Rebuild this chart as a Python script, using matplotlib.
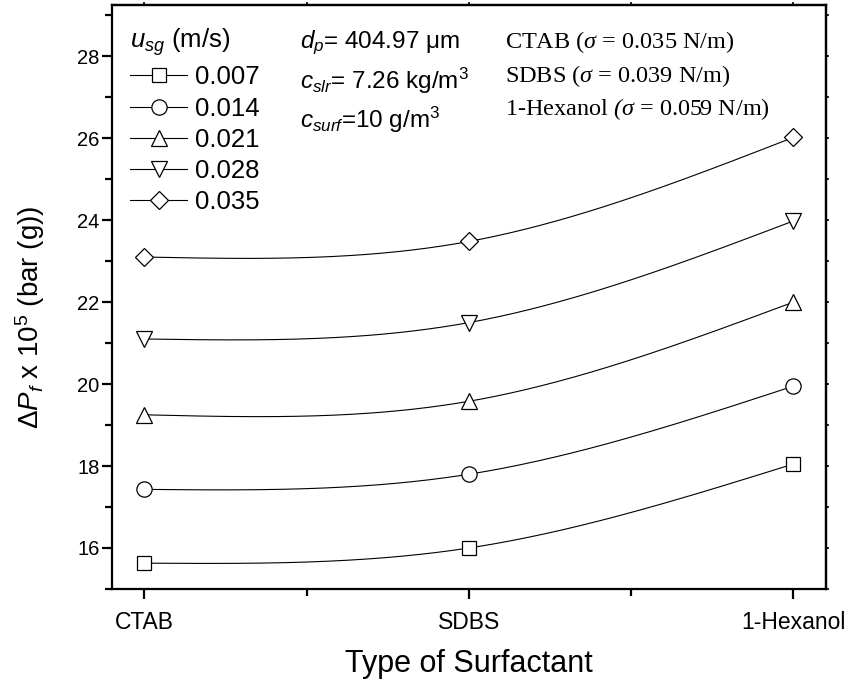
"""
Frictional pressure drop vs. surfactant type, one curve per gas velocity
"""

import numpy as np
import matplotlib
matplotlib.use("Agg")
import matplotlib.pyplot as plt
from matplotlib.ticker import MultipleLocator, FixedLocator

# ---- data ----
surfactants = ["CTAB", "SDBS", "1-Hexanol"]
usg_labels = ["0.007", "0.014", "0.021", "0.028", "0.035"]
dp_u007 = [15.63, 16.00, 18.05]
dp_u014 = [17.43, 17.80, 19.95]
dp_u021 = [19.25, 19.58, 22.00]
dp_u028 = [21.10, 21.50, 23.98]
dp_u035 = [23.10, 23.48, 26.02]

series = [dp_u007, dp_u014, dp_u021, dp_u028, dp_u035]
markers = ["s", "o", "^", "v", "D"]
msizes = [9.5, 11, 11.5, 11.5, 9]

plt.rcParams["font.family"] = ["Liberation Sans", "DejaVu Sans"]
plt.rcParams["mathtext.fontset"] = "custom"
plt.rcParams["mathtext.rm"] = "Liberation Sans"
plt.rcParams["mathtext.it"] = "Liberation Sans:italic"
plt.rcParams["mathtext.cal"] = "Liberation Serif:italic"


def natural_spline(x, y, n=300):
    """natural cubic spline, same look as Origin's spline connect"""
    x = np.asarray(x, float)
    y = np.asarray(y, float)
    m = len(x)
    h = np.diff(x)
    A = np.zeros((m, m))
    r = np.zeros(m)
    A[0, 0] = A[-1, -1] = 1
    for i in range(1, m - 1):
        A[i, i - 1] = h[i - 1]
        A[i, i] = 2 * (h[i - 1] + h[i])
        A[i, i + 1] = h[i]
        r[i] = 6 * ((y[i + 1] - y[i]) / h[i] - (y[i] - y[i - 1]) / h[i - 1])
    M = np.linalg.solve(A, r)
    xs = np.linspace(x[0], x[-1], n)
    k = np.clip(np.searchsorted(x, xs) - 1, 0, m - 2)
    hk = h[k]
    a = x[k + 1] - xs
    b = xs - x[k]
    ys = (M[k] * a**3 + M[k + 1] * b**3) / (6 * hk) \
        + (y[k] / hk - M[k] * hk / 6) * a + (y[k + 1] / hk - M[k + 1] * hk / 6) * b
    return xs, ys


fig = plt.figure(figsize=(8.48, 6.82), dpi=100)
ax = fig.add_axes([0.132, 0.1364, 0.842, 0.8563])

xpos = np.arange(len(surfactants))
for vals, mk, ms, lab in zip(series, markers, msizes, usg_labels):
    xs, ys = natural_spline(xpos, vals)
    ax.plot(xs, ys, color="black", lw=0.8, zorder=2)
    ax.plot(xpos, vals, ls="none", marker=mk, ms=ms, mfc="white",
            mec="black", mew=0.9, zorder=3)
    # legend proxy: line + marker
    ax.plot([], [], color="black", lw=0.8, marker=mk, ms=ms, mfc="white",
            mec="black", mew=0.9, label=lab)

ax.set_xlim(-0.1, 2.1)
ax.set_ylim(15, 29.25)

ax.set_xticks(xpos)
ax.set_xticklabels(surfactants)
ax.xaxis.set_minor_locator(FixedLocator([0.5, 1.5]))
ax.yaxis.set_major_locator(MultipleLocator(2))
ax.yaxis.set_minor_locator(MultipleLocator(1))

for sp in ax.spines.values():
    sp.set_linewidth(1.6)
ax.tick_params(axis="both", which="major", direction="out", length=7, width=1.6)
ax.tick_params(axis="both", which="minor", direction="out", length=5, width=1.6)
ax.tick_params(axis="x", labelsize=16.5, pad=9)
ax.tick_params(axis="y", labelsize=14.5, pad=2)

# small outward ticks on top / right
top = ax.secondary_xaxis("top")
top.xaxis.set_major_locator(FixedLocator([0, 0.5, 1.0, 1.5, 2.0]))
top.tick_params(direction="out", length=2.5, width=1.2, labeltop=False)
right = ax.secondary_yaxis("right")
right.yaxis.set_major_locator(MultipleLocator(1))
right.tick_params(direction="out", length=2.5, width=1.2, labelright=False)
for s in (top, right):
    for sp in s.spines.values():
        sp.set_linewidth(1.6)

ax.set_xlabel("Type of Surfactant", fontsize=22, labelpad=11)
fig.text(0.036, 0.535, r"$\mathit{\Delta P_f}$ x 10$^5$ (bar (g))",
         rotation=90, ha="center", va="center", fontsize=20)

leg = ax.legend(loc="upper left", bbox_to_anchor=(0.008, 0.985), frameon=False,
                title=r"$u_{sg}$ (m/s)", fontsize=18.5, title_fontsize=18.5,
                handlelength=2.2, handletextpad=0.3, labelspacing=0.28,
                borderaxespad=0.3, borderpad=0.2)
leg._legend_box.align = "left"

# operating conditions
ax.text(0.263, 0.935, r"$d_p$= 404.97 $\mathrm{\mu}$m", transform=ax.transAxes,
        fontsize=17.5, va="center")
ax.text(0.263, 0.870, r"$c_{slr}$= 7.26 kg/m$^3$", transform=ax.transAxes,
        fontsize=17.5, va="center")
ax.text(0.263, 0.804, r"$c_{surf}$=10 g/m$^3$", transform=ax.transAxes,
        fontsize=17.5, va="center")

# surface tension notes
ax.text(0.550, 0.936, r"CTAB ($\mathcal{\sigma}$ = 0.035 N/m)", transform=ax.transAxes,
        fontsize=17.5, va="center", family="Liberation Serif")
ax.text(0.550, 0.879, r"SDBS ($\mathcal{\sigma}$ = 0.039 N/m)", transform=ax.transAxes,
        fontsize=17.5, va="center", family="Liberation Serif")
ax.text(0.550, 0.822, r"1-Hexanol $\mathcal{(\sigma}$ = 0.059 N/m)", transform=ax.transAxes,
        fontsize=17.5, va="center", family="Liberation Serif")

fig.savefig("out.png", dpi=100)
